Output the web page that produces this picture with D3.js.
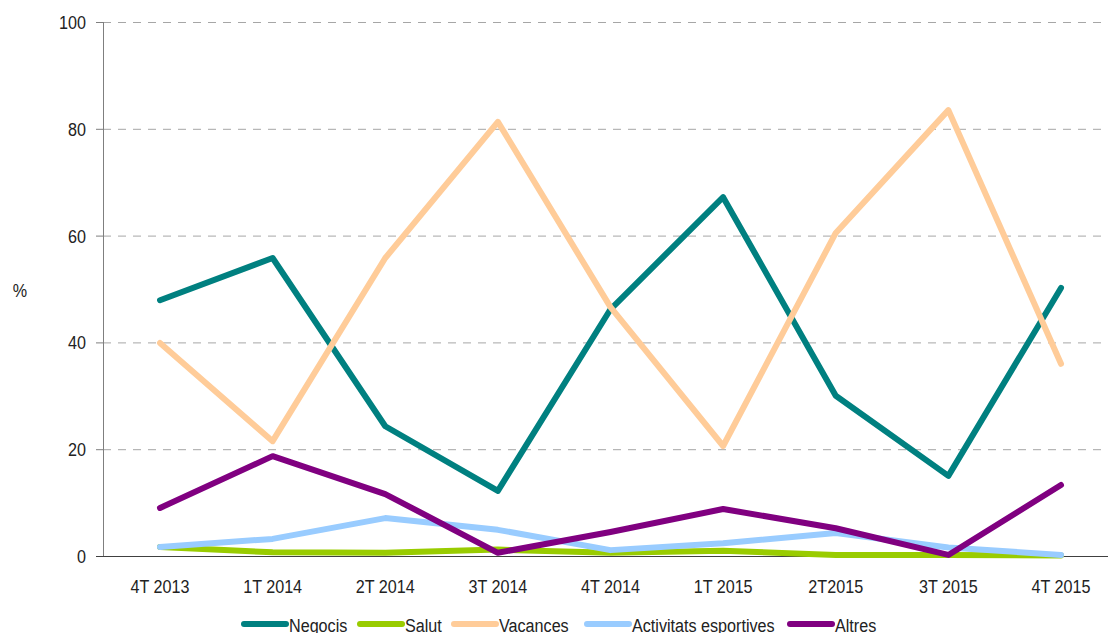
<!DOCTYPE html>
<html>
<head>
<meta charset="utf-8">
<script src="https://cdn.jsdelivr.net/npm/d3@7"></script>
<style>
	body { margin: 0; background: #fff; }
	text { font-family: "Liberation Sans Narrow", "Arial Narrow", "Liberation Sans", sans-serif; fill: #222; }
</style>
</head>
<body>
<div id="chart"></div>
<script>
// categories
var quarters = ["4T 2013", "1T 2014", "2T 2014", "3T 2014", "4T 2014", "1T 2015", "2T2015", "3T 2015", "4T 2015"];

// series values (%)
var negocis     = [47.9, 55.8, 24.3, 12.2, 46.2, 67.2, 30.0, 15.0, 50.2];
var salut       = [1.7, 0.7, 0.6, 1.2, 0.6, 1.0, 0.2, 0.2, 0.1];
var vacances    = [39.9, 21.5, 55.8, 81.3, 46.6, 20.6, 60.5, 83.5, 36.0];
var activitats  = [1.7, 3.2, 7.1, 4.9, 1.1, 2.4, 4.3, 1.6, 0.2];
var altres      = [9.0, 18.7, 11.6, 0.6, 4.5, 8.8, 5.2, 0.2, 13.3];

var seriesNames = ["Negocis", "Salut", "Vacances", "Activitats esportives", "Altres"];
var seriesColors = ["#008080", "#99cc00", "#ffcc99", "#99ccff", "#800080"];
var yTicks = [0, 20, 40, 60, 80, 100];

var series = [negocis, salut, vacances, activitats, altres].map(function(vals, i) {
	return { name: seriesNames[i], color: seriesColors[i], values: vals };
});

var width = 1108, height = 633;
var plotLeft = 103, plotTop = 22, plotBottom = 556;
var fontSize = 19, squeeze = 0.85;   // narrow font look

var svg = d3.select("#chart").append("svg")
	.attr("width", width)
	.attr("height", height);

var x = d3.scalePoint()
	.domain(quarters)
	.range([160, 1061]);

var y = d3.scaleLinear()
	.domain([0, 100])
	.range([plotBottom, plotTop]);

// helper for condensed text
function narrowText(g, tx, ty, anchor, str) {
	return g.append("text")
		.attr("transform", "translate(" + tx + "," + ty + ") scale(" + squeeze + ",1)")
		.attr("text-anchor", anchor)
		.style("font-size", fontSize + "px")
		.text(str);
}

// gridlines
svg.append("g")
	.selectAll("line")
	.data(yTicks.filter(function(d) { return d > 0; }))
	.enter().append("line")
	.attr("x1", plotLeft).attr("x2", width)
	.attr("y1", function(d) { return y(d) + 0.5; })
	.attr("y2", function(d) { return y(d) + 0.5; })
	.style("stroke", "#a6a6a6")
	.style("stroke-dasharray", "8,7");

// y axis
svg.append("line")
	.attr("x1", plotLeft + 0.5).attr("x2", plotLeft + 0.5)
	.attr("y1", plotTop).attr("y2", plotBottom)
	.style("stroke", "#7f7f7f");

var yTickG = svg.append("g");
yTicks.forEach(function(t) {
	yTickG.append("line")
		.attr("x1", plotLeft - 7).attr("x2", plotLeft)
		.attr("y1", y(t) + 0.5).attr("y2", y(t) + 0.5)
		.style("stroke", "#7f7f7f");
	narrowText(yTickG, plotLeft - 17, y(t) + 7, "end", t);
});

// x axis
svg.append("line")
	.attr("x1", plotLeft - 7).attr("x2", width)
	.attr("y1", plotBottom + 0.5).attr("y2", plotBottom + 0.5)
	.style("stroke", "#404040");

var xTickG = svg.append("g");
quarters.forEach(function(q) {
	narrowText(xTickG, x(q), 593, "middle", q);
});

// y label
narrowText(svg, 20, 297, "middle", "%");

// lines
var line = d3.line()
	.x(function(d, i) { return x(quarters[i]); })
	.y(function(d) { return y(d); });

svg.append("g")
	.selectAll("path")
	.data(series)
	.enter().append("path")
	.attr("d", function(d) { return line(d.values); })
	.style("fill", "none")
	.style("stroke", function(d) { return d.color; })
	.style("stroke-width", 6)
	.style("stroke-linecap", "round")
	.style("stroke-linejoin", "round");

// legend
var legendX = [244, 360, 454, 587, 790];
series.forEach(function(s, i) {
	var g = svg.append("g")
		.attr("transform", "translate(" + legendX[i] + ",624)");
	g.append("line")
		.attr("x1", 0).attr("x2", 42)
		.style("stroke", s.color)
		.style("stroke-width", 6)
		.style("stroke-linecap", "round");
	narrowText(g, 45, 8, "start", s.name);
});
</script>
</body>
</html>
